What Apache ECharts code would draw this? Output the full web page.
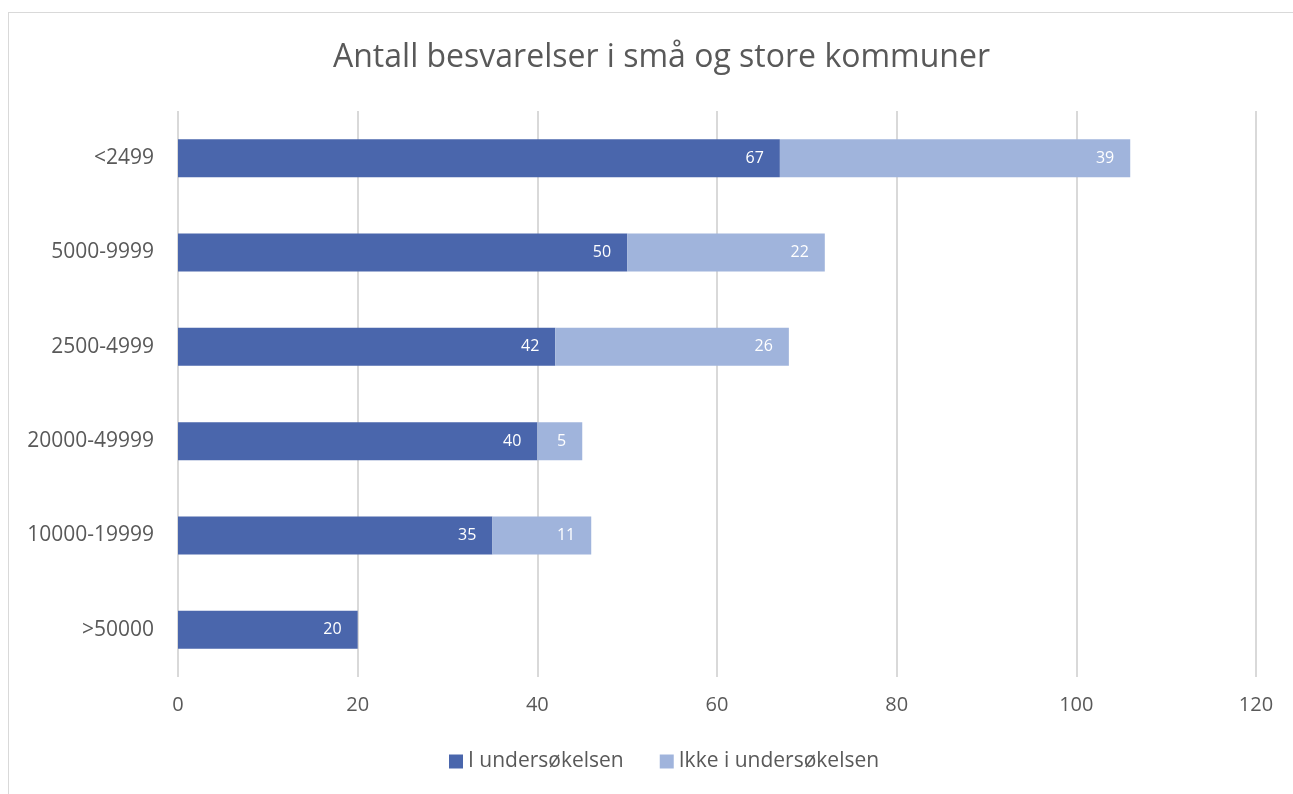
<!DOCTYPE html>
<html>
<head>
<meta charset="utf-8">
<script src="https://cdn.jsdelivr.net/npm/echarts@6/dist/echarts.min.js"></script>
<style>
  html, body { margin: 0; padding: 0; background: #fff; }
  #frame {
    position: absolute; left: 8px; top: 12px; width: 1300px; height: 800px;
    border: 1px solid #d9d9d9; box-sizing: border-box;
  }
  #chart { position: absolute; left: 0; top: 0; width: 1293px; height: 794px; }
</style>
</head>
<body>
<div id="frame"></div>
<div id="chart"></div>
<script>
// kategorier (ovenfra og ned)
const categories = ['<2499', '5000-9999', '2500-4999', '20000-49999', '10000-19999', '>50000']
const iUndersokelsen = [67, 50, 42, 40, 35, 20]
const ikkeIUndersokelsen = [39, 22, 26, 5, 11, null]
const xTicks = { min: 0, max: 120, interval: 20 }

const textColor = '#595959'
const fontFamily = '"Open Sans", "Noto Sans", sans-serif'

const chart = echarts.init(document.getElementById('chart'))

function barLabel() {
  return {
    show: true,
    position: 'insideRight',
    distance: 16,
    color: '#fff',
    fontSize: 16,
    fontFamily: fontFamily
  }
}

chart.setOption({
  animation: false,
  title: {
    text: 'Antall besvarelser i små og store kommuner',
    left: 328,
    top: 37,
    textStyle: {
      color: textColor,
      fontSize: 32,
      fontWeight: 'normal',
      fontFamily: fontFamily
    }
  },
  legend: {
    bottom: 17,
    left: 444,
    itemWidth: 14,
    itemHeight: 14,
    itemGap: 36,
    icon: 'rect',
    textStyle: { color: textColor, fontSize: 21, fontFamily: fontFamily },
    data: ['I undersøkelsen', 'Ikke i undersøkelsen']
  },
  grid: { left: 178, right: 37, top: 111, bottom: 117 },
  xAxis: {
    type: 'value',
    min: xTicks.min,
    max: xTicks.max,
    interval: xTicks.interval,
    axisLine: { show: false },
    axisTick: { show: false },
    axisLabel: { color: textColor, fontSize: 20, margin: 18, fontFamily: fontFamily },
    splitLine: { lineStyle: { color: '#d9d9d9', width: 2 } }
  },
  yAxis: {
    type: 'category',
    inverse: true,
    data: categories,
    axisLine: { show: false },
    axisTick: { show: false },
    axisLabel: { color: textColor, fontSize: 21, margin: 24, fontFamily: fontFamily }
  },
  series: [
    {
      name: 'I undersøkelsen',
      type: 'bar',
      stack: 'total',
      barWidth: 38,
      itemStyle: { color: '#4a66ac' },
      label: barLabel(),
      data: iUndersokelsen
    },
    {
      name: 'Ikke i undersøkelsen',
      type: 'bar',
      stack: 'total',
      barWidth: 38,
      itemStyle: { color: '#a0b4dc' },
      label: barLabel(),
      data: ikkeIUndersokelsen
    }
  ]
})
</script>
</body>
</html>
